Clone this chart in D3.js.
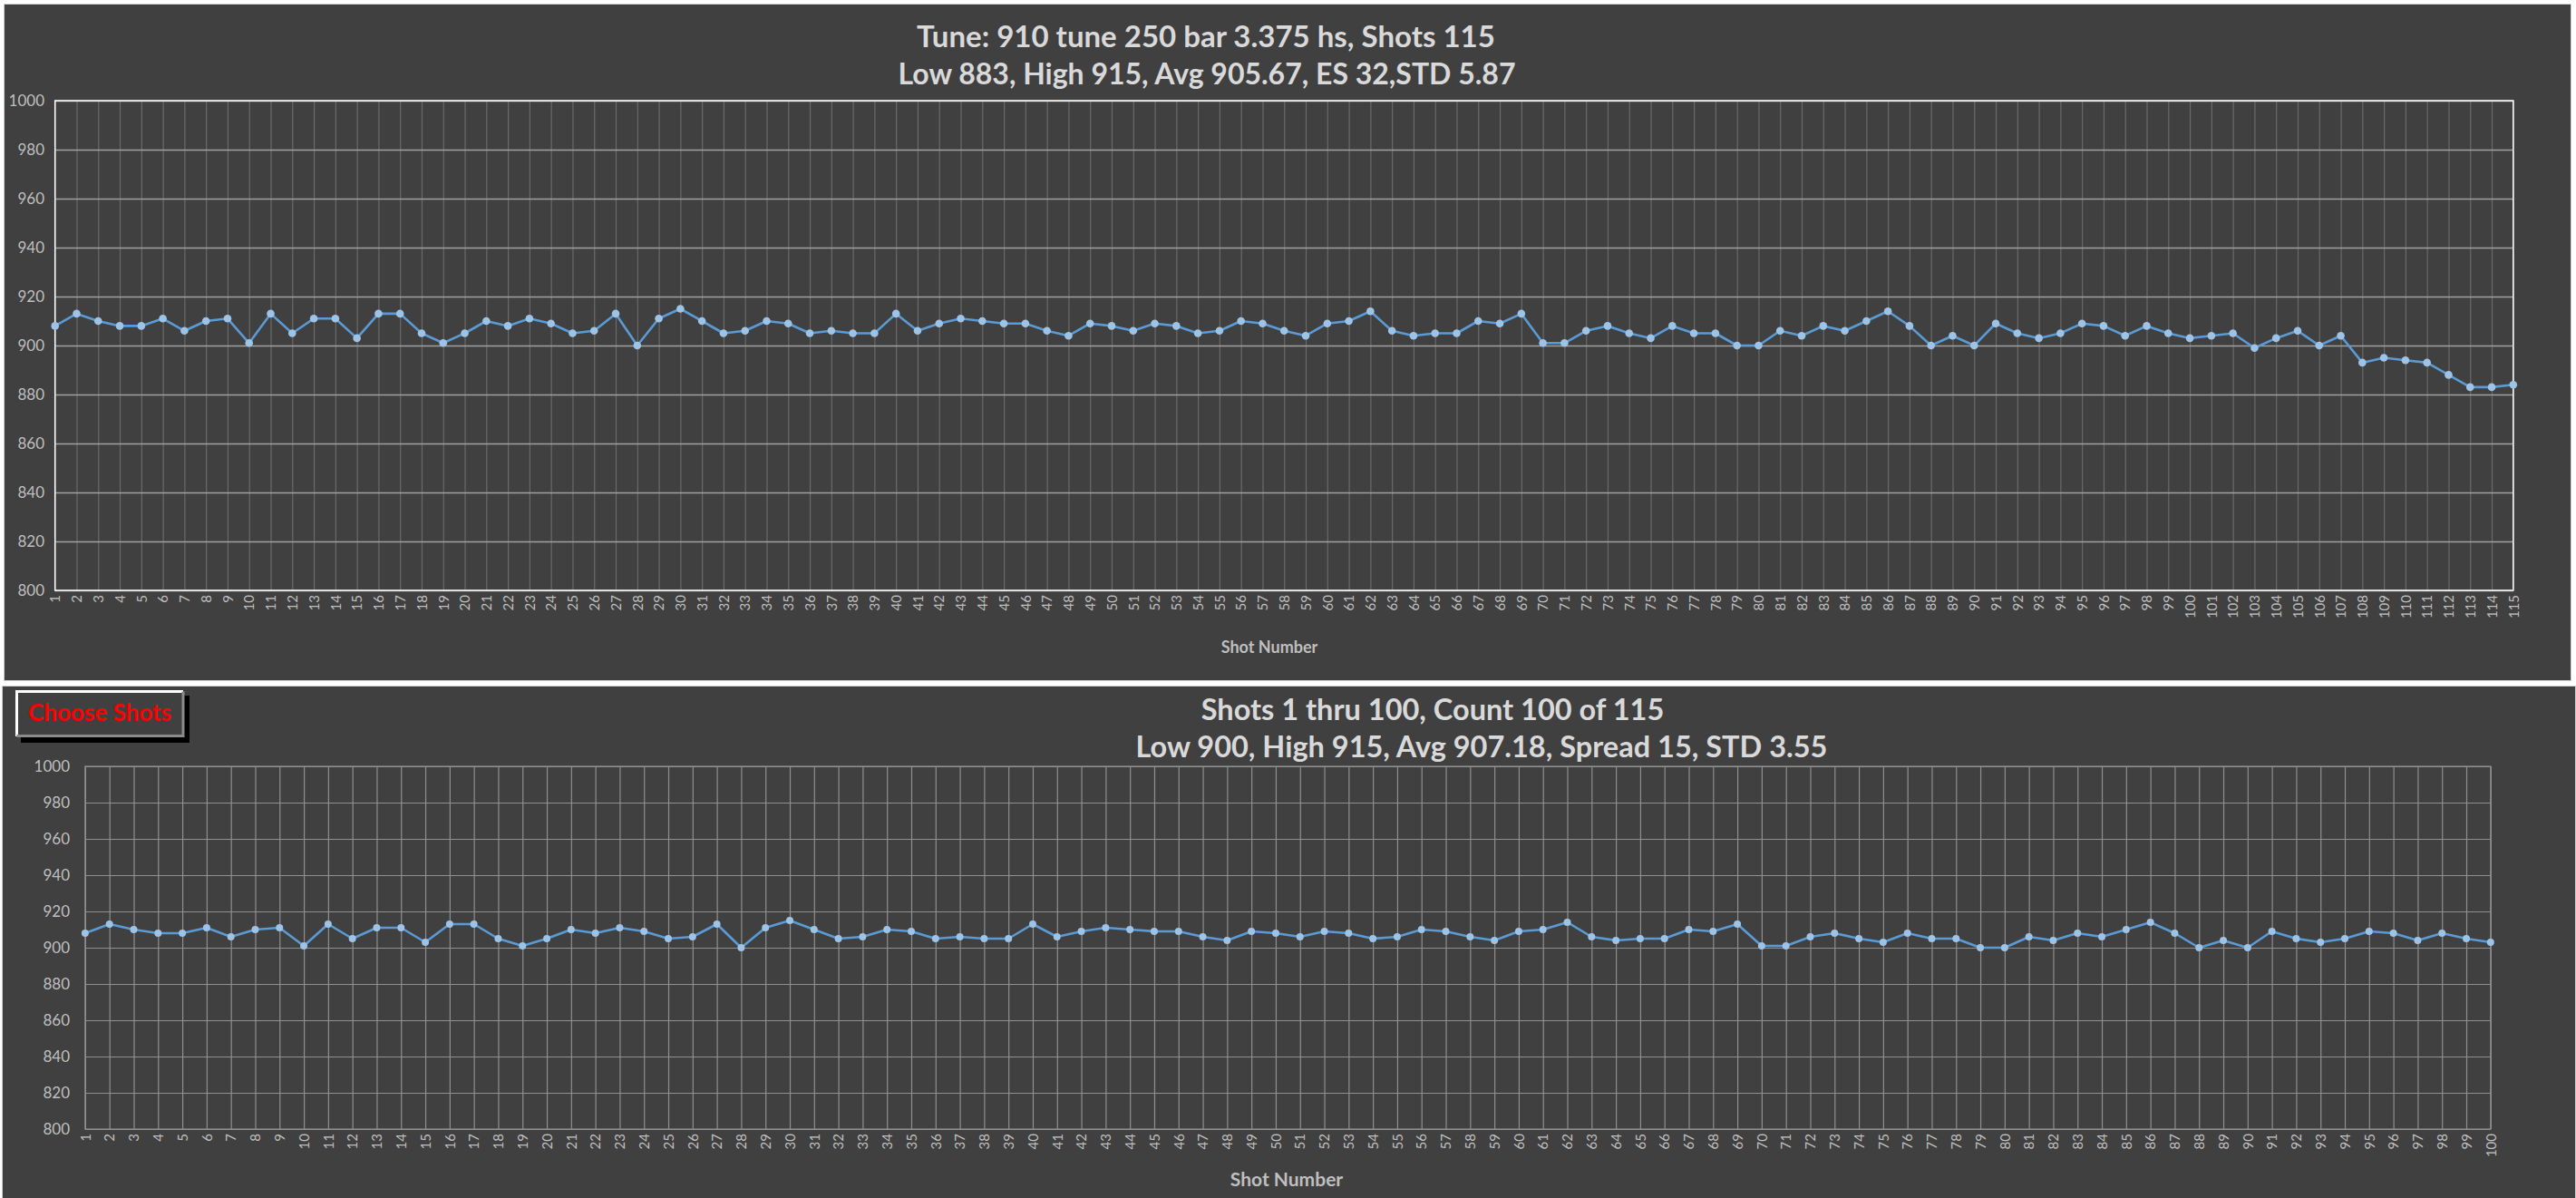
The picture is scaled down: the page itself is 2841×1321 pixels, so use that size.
<!DOCTYPE html>
<html>
<head>
<meta charset="utf-8">
<script src="https://cdn.jsdelivr.net/npm/d3@7"></script>
<style>
  html, body { margin: 0; padding: 0; background: #ffffff; }
  svg { display: block; }
  text { font-family: Lato, "Open Sans", "Liberation Sans", sans-serif; }
</style>
</head>
<body>
<svg id="chart" width="2841" height="1321"></svg>
<script>
// ---------------- DATA ----------------
const shotNumbers = d3.range(1, 116); // categories: shot 1 .. 115
const velocities = [
  908, 913, 910, 908, 908, 911, 906, 910, 911, 901,
  913, 905, 911, 911, 903, 913, 913, 905, 901, 905,
  910, 908, 911, 909, 905, 906, 913, 900, 911, 915,
  910, 905, 906, 910, 909, 905, 906, 905, 905, 913,
  906, 909, 911, 910, 909, 909, 906, 904, 909, 908,
  906, 909, 908, 905, 906, 910, 909, 906, 904, 909,
  910, 914, 906, 904, 905, 905, 910, 909, 913, 901,
  901, 906, 908, 905, 903, 908, 905, 905, 900, 900,
  906, 904, 908, 906, 910, 914, 908, 900, 904, 900,
  909, 905, 903, 905, 909, 908, 904, 908, 905, 903,
  904, 905, 899, 903, 906, 900, 904, 893, 895, 894,
  893, 888, 883, 883, 884
];
const subsetShots = shotNumbers.slice(0, 100);     // "Shots 1 thru 100"
const subsetVelocities = velocities.slice(0, 100);
const yTickValues = [800, 820, 840, 860, 880, 900, 920, 940, 960, 980, 1000];
const topTitleLines = [
  "Tune: 910 tune 250 bar 3.375 hs, Shots 115",
  "Low 883, High 915, Avg 905.67, ES 32,STD 5.87"
];
const bottomTitleLines = [
  "Shots 1 thru 100, Count 100 of 115",
  "Low 900, High 915, Avg 907.18, Spread 15, STD 3.55"
];
const xAxisTitle = "Shot Number";
const buttonLabel = "Choose Shots";

// ---------------- DRAW ----------------
const svg = d3.select("#chart");

function drawChart(cfg) {
  const g = svg.append("g");
  g.append("rect")
    .attr("x", cfg.box.x).attr("y", cfg.box.y)
    .attr("width", cfg.box.w).attr("height", cfg.box.h)
    .attr("fill", "#404040").attr("stroke", "#d0d0d0").attr("stroke-width", 1);

  const x = d3.scalePoint().domain(cfg.cats).range([cfg.plot.left, cfg.plot.right]);
  const y = d3.scaleLinear().domain([800, 1000]).range([cfg.plot.bottom, cfg.plot.top]);
  const pw = cfg.plot.right - cfg.plot.left;
  const ph = cfg.plot.bottom - cfg.plot.top;

  const vg = g.append("g")
    .attr("transform", `translate(0,${cfg.plot.bottom})`)
    .call(d3.axisBottom(x).tickSize(-ph).tickFormat(""));
  vg.select(".domain").remove();
  vg.selectAll(".tick line").attr("stroke", cfg.vGrid).attr("stroke-width", cfg.vGridW);

  const hg = g.append("g")
    .attr("transform", `translate(${cfg.plot.left},0)`)
    .call(d3.axisLeft(y).tickValues(yTickValues).tickSize(-pw).tickFormat(""));
  hg.select(".domain").remove();
  hg.selectAll(".tick line").attr("stroke", cfg.hGrid).attr("stroke-width", cfg.hGridW);

  g.append("rect")
    .attr("x", cfg.plot.left).attr("y", cfg.plot.top)
    .attr("width", pw).attr("height", ph)
    .attr("fill", "none").attr("stroke", cfg.border).attr("stroke-width", cfg.borderW);

  const ya = g.append("g")
    .attr("transform", `translate(${cfg.yLabelX},0)`)
    .call(d3.axisLeft(y).tickValues(yTickValues).tickSize(0).tickPadding(0).tickFormat(d3.format("d")));
  ya.select(".domain").remove();
  ya.selectAll("text")
    .attr("fill", "#bfbfbf").attr("font-size", cfg.tickFont)
    .style("font-family", "Lato, sans-serif");

  const xa = g.append("g")
    .attr("transform", `translate(0,${cfg.plot.bottom})`)
    .call(d3.axisBottom(x).tickSize(0).tickPadding(0));
  xa.select(".domain").remove();
  xa.selectAll("text")
    .attr("fill", "#bfbfbf").attr("font-size", cfg.xTickFont)
    .style("font-family", "Lato, sans-serif")
    .attr("transform", "rotate(-90)")
    .attr("text-anchor", "end")
    .attr("x", -cfg.xLabelGap).attr("y", 0).attr("dy", "0.35em");

  const line = d3.line().x((d, i) => x(cfg.cats[i])).y(d => y(d));
  g.append("path").datum(cfg.values)
    .attr("d", line).attr("fill", "none")
    .attr("stroke", "#5b9bd5").attr("stroke-width", cfg.lineW)
    .attr("stroke-linejoin", "round");

  g.selectAll("circle.pt").data(cfg.values).enter().append("circle")
    .attr("class", "pt")
    .attr("cx", (d, i) => x(cfg.cats[i])).attr("cy", d => y(d))
    .attr("r", cfg.markerR).attr("fill", "#9dc3e6");

  cfg.titles.forEach((t, i) => {
    g.append("text")
      .attr("x", cfg.titlePos[i][0]).attr("y", cfg.titlePos[i][1])
      .attr("text-anchor", "middle").attr("dominant-baseline", "middle")
      .attr("font-size", cfg.titleFont[i]).attr("font-weight", "bold")
      .attr("fill", "#d9d9d9").text(t);
  });

  g.append("text")
    .attr("x", cfg.axisTitlePos[0]).attr("y", cfg.axisTitlePos[1])
    .attr("text-anchor", "middle").attr("dominant-baseline", "middle")
    .attr("font-size", cfg.axisTitleFont).attr("font-weight", "bold")
    .attr("fill", "#bfbfbf").text(xAxisTitle);
}

drawChart({
  box: { x: 4.5, y: 4.5, w: 2831, h: 746 },
  plot: { left: 60.7, right: 2771.8, top: 111, bottom: 651 },
  cats: shotNumbers, values: velocities,
  vGrid: "#6a6a6a", vGridW: 1.2, hGrid: "#a0a0a0", hGridW: 1.5,
  border: "#ffffff", borderW: 1.5,
  yLabelX: 49, tickFont: 17, xTickFont: 15, xLabelGap: 5,
  lineW: 2.6, markerR: 4.3,
  titles: topTitleLines, titlePos: [[1330, 44], [1331, 85]], titleFont: [33, 32],
  axisTitlePos: [1400, 715], axisTitleFont: 18
});

drawChart({
  box: { x: 2.5, y: 756.5, w: 2838, h: 566 },
  plot: { left: 93.9, right: 2746.8, top: 845, bottom: 1245 },
  cats: subsetShots, values: subsetVelocities,
  vGrid: "#8f8f8f", vGridW: 1.2, hGrid: "#8f8f8f", hGridW: 1.2,
  border: "#8f8f8f", borderW: 1.2,
  yLabelX: 77, tickFont: 17, xTickFont: 15, xLabelGap: 5,
  lineW: 2.6, markerR: 4,
  titles: bottomTitleLines, titlePos: [[1580, 786], [1634, 827]], titleFont: [32.5, 32.5],
  axisTitlePos: [1419, 1303], axisTitleFont: 21
});

const btn = svg.append("g");
btn.append("rect").attr("x", 23).attr("y", 767).attr("width", 186).attr("height", 52).attr("fill", "#000000");
btn.append("rect").attr("x", 17).attr("y", 761).attr("width", 186).attr("height", 52).attr("fill", "#404040");
btn.append("path").attr("d", "M18.5,812 V762.5 H202").attr("fill", "none").attr("stroke", "#ffffff").attr("stroke-width", 3);
btn.append("path").attr("d", "M202,762.5 V811.5 H18.5").attr("fill", "none").attr("stroke", "#8a8a8a").attr("stroke-width", 3);
btn.append("text").attr("x", 110).attr("y", 788)
  .attr("text-anchor", "middle").attr("dominant-baseline", "middle")
  .attr("font-size", 26).attr("font-weight", "bold").attr("fill", "#ff0000")
  .text(buttonLabel);
</script>
</body>
</html>
